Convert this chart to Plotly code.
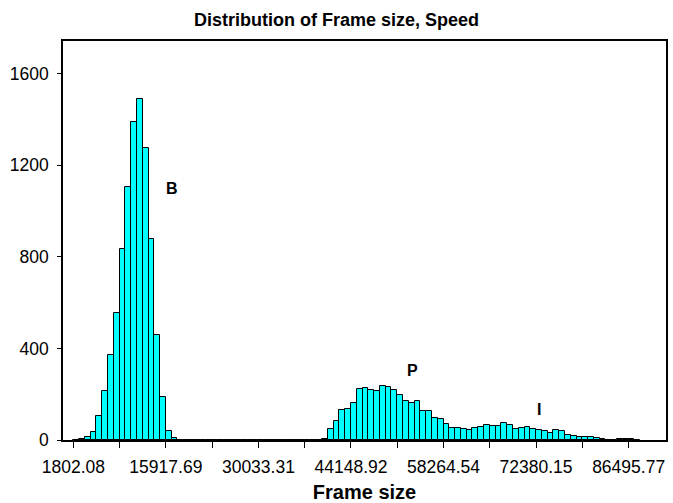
import plotly.graph_objects as go

# ---- data ----
tick_labels = ["1802.08", "15917.69", "30033.31", "44148.92", "58264.54", "72380.15", "86495.77"]
bin_start = 1802.08
bin_width = 882.2256          # 16 bins between labelled ticks
counts = [
    0, 3, 12, 35, 104, 214, 370, 554, 834, 1105,
    1388, 1490, 1276, 878, 458, 187, 41, 10, 0, 0,
    0, 0, 0, 0, 0, 0, 0, 0, 0, 0,
    0, 0, 0, 0, 0, 0, 0, 0, 0, 0,
    0, 0, 0, 5, 47, 83, 131, 136, 163, 223,
    228, 219, 212, 236, 232, 219, 197, 172, 162, 169,
    128, 127, 96, 90, 69, 54, 54, 50, 45, 51,
    55, 64, 61, 63, 76, 67, 48, 54, 55, 50,
    44, 40, 29, 43, 40, 20, 19, 15, 11, 11,
    7, 4, 1, 1, 6, 4, 3, 1,
]
y_ticks = [0, 400, 800, 1200, 1600]
peak_labels = ["B", "P", "I"]
peak_x = [16880, 53546, 72794]
peak_y = [1099, 304, 133]

# ---- derived ----
centers = [bin_start + (i + 0.5) * bin_width for i in range(len(counts))]
label_step = float(tick_labels[1]) - float(tick_labels[0])
tickvals, ticktext = [], []
for i in range(2 * len(tick_labels) - 1):
    tickvals.append(float(tick_labels[0]) + i * label_step / 2)
    ticktext.append(tick_labels[i // 2] if i % 2 == 0 else "")

FONT = "Arial, Liberation Sans, sans-serif"

fig = go.Figure()
fig.add_trace(go.Bar(
    x=centers, y=counts, width=bin_width,
    marker=dict(color="#00FFFF", line=dict(color="black", width=1)),
    hoverinfo="x+y",
))

for t, x, y in zip(peak_labels, peak_x, peak_y):
    fig.add_annotation(x=x, y=y, text=f"<b>{t}</b>", showarrow=False,
                       font=dict(family=FONT, size=16, color="black"))

fig.update_layout(
    width=673, height=503,
    margin=dict(l=63, r=7, t=41, b=63, autoexpand=False),
    paper_bgcolor="white", plot_bgcolor="white",
    bargap=0,
    showlegend=False,
    title=dict(text="<b>Distribution of Frame size, Speed</b>",
               x=0.5, xanchor="center", y=0.96, yanchor="middle",
               font=dict(family=FONT, size=18, color="black")),
    font=dict(family=FONT, color="black"),
)
fig.update_xaxes(
    range=[228, 92196], automargin=False,
    tickmode="array", tickvals=tickvals, ticktext=ticktext,
    ticks="outside", ticklen=6, tickcolor="black", tickwidth=1,
    tickfont=dict(family=FONT, size=17.5, color="black"),
    ticklabelstandoff=4,
    showline=True, linecolor="black", linewidth=1.5, mirror=True,
    showgrid=False, zeroline=False,
    title=dict(text="<b>Frame size</b>",
               font=dict(family=FONT, size=20, color="black")),
)
fig.update_yaxes(
    range=[0, 1743], automargin=False,
    tickmode="array", tickvals=y_ticks,
    ticks="outside", ticklen=4, tickcolor="black", tickwidth=1,
    tickfont=dict(family=FONT, size=17.5, color="black"),
    ticklabelstandoff=5,
    showline=True, linecolor="black", linewidth=1.5, mirror=True,
    showgrid=False, zeroline=False,
)

fig.write_html("out.html")
